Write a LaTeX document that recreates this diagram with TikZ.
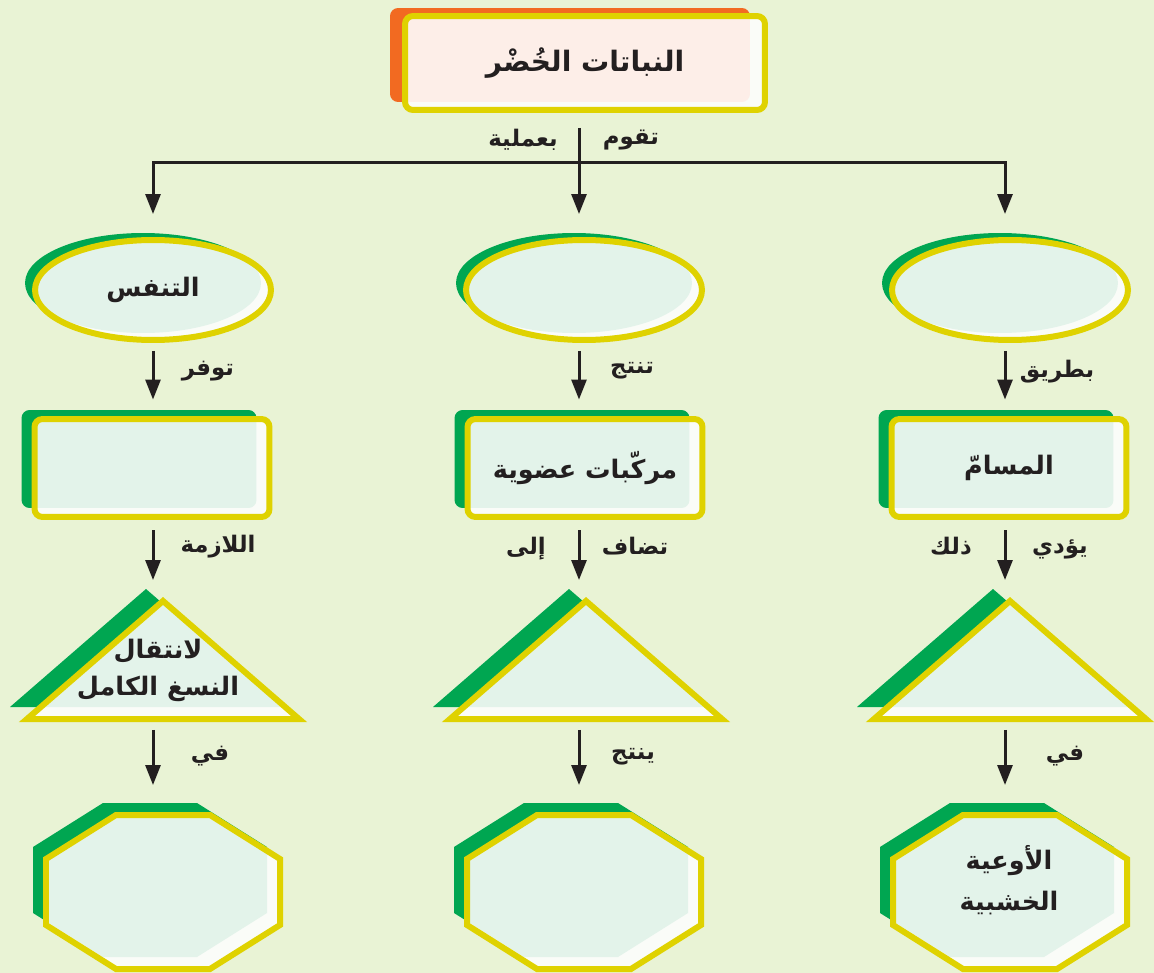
\documentclass[tikz,border=0pt]{standalone}
\usepackage{fontspec}
\usepackage{tikz}
\usetikzlibrary{arrows.meta,shapes.geometric,shadows,positioning}
\TeXXeTstate=1
\newfontfamily\arabicfont[Script=Arabic]{DejaVu Sans}
\newcommand{\artxt}[1]{{\arabicfont\bfseries\beginR #1\endR}}

\definecolor{bgcol}{HTML}{E9F3D5}
\definecolor{rimc}{HTML}{DFD200}
\definecolor{leaf}{HTML}{00A651}
\definecolor{rust}{HTML}{F26A21}
\definecolor{mint}{HTML}{E3F3EA}
\definecolor{blush}{HTML}{FDEEE8}
\definecolor{paper}{HTML}{FAFCF8}
\definecolor{ink}{HTML}{231F20}

% outlines of the flat shapes, one argument = centre x
\newcommand{\tripath}[1]{(#1,601) -- (#1-136,719) -- (#1+136,719) -- cycle}
\newcommand{\octpath}[1]{(#1-47,815) -- (#1+47,815) -- (#1+117,859) -- (#1+117,925)
  -- (#1+47,969) -- (#1-47,969) -- (#1-117,925) -- (#1-117,859) -- cycle}

\tikzset{
  rim/.style={draw=rimc, line width=0.12cm, fill=paper, line join=miter},
  wire/.style={draw=ink, line width=0.06cm},
  txt/.style={font=\fontsize{14.5}{18}\selectfont, text=ink, align=center},
  lbl/.style={font=\fontsize{13}{15}\selectfont, text=ink, inner sep=0pt},
  oval/.style={rim, ellipse, minimum width=4.72cm, minimum height=2cm, txt,
    copy shadow={shadow xshift=-0.2cm, shadow yshift=0.14cm, fill=leaf, draw=none},
    path picture={\fill[mint] ([xshift=-0.2cm,yshift=0.14cm]path picture bounding box.center)
      ellipse [x radius=2.36cm, y radius=1cm];}},
  card/.style={rim, rounded corners=0.16cm, minimum width=4.7cm, minimum height=1.96cm, txt,
    copy shadow={shadow xshift=-0.26cm, shadow yshift=0.18cm, fill=leaf, draw=none},
    path picture={\fill[mint, rounded corners=0.16cm]
      ([xshift=-0.26cm,yshift=0.18cm]path picture bounding box.south west) rectangle
      ([xshift=-0.26cm,yshift=0.18cm]path picture bounding box.north east);}},
  headcard/.style={rim, rounded corners=0.16cm, minimum width=7.2cm, minimum height=1.88cm,
    txt, font=\fontsize{16}{20}\selectfont,
    copy shadow={shadow xshift=-0.3cm, shadow yshift=0.16cm, fill=rust, draw=none},
    path picture={\fill[blush, rounded corners=0.16cm]
      ([xshift=-0.3cm,yshift=0.16cm]path picture bounding box.south west) rectangle
      ([xshift=-0.3cm,yshift=0.16cm]path picture bounding box.north east);}}
}

\begin{document}
\begin{tikzpicture}[x=0.02cm, y=-0.02cm, >={Triangle[length=0.4cm, width=0.3cm]}]
  \fill[bgcol] (0,0) rectangle (1154,973);
  \useasboundingbox (0,0) rectangle (1154,973);

  % top of the chart
  \node[headcard] (top) at (585,63) {\artxt{النباتات الخُضْر}};
  \coordinate (hub1) at (153,163);
  \coordinate (hub2) at (579,163);
  \coordinate (hub3) at (1005,163);

  % first row
  \node[oval] (e1) at (153,290) {\artxt{التنفس}};
  \node[oval] (e2) at (584,290) {};
  \node[oval] (e3) at (1010,290) {};

  % second row
  \node[card] (r1) at (152,468) {};
  \node[card] (r2) at (585,468) {\artxt{مركّبات عضوية}};
  \node[card] (r3) at (1009,468) {\artxt{المسامّ}};

  % third row
  \fill[leaf, shift={(-17,-12)}] \tripath{163};
  \path[rim, path picture={\fill[mint, shift={(-17,-12)}] \tripath{163};}] \tripath{163};
  \fill[leaf, shift={(-17,-12)}] \tripath{586};
  \path[rim, path picture={\fill[mint, shift={(-17,-12)}] \tripath{586};}] \tripath{586};
  \fill[leaf, shift={(-17,-12)}] \tripath{1010};
  \path[rim, path picture={\fill[mint, shift={(-17,-12)}] \tripath{1010};}] \tripath{1010};
  \coordinate (t1) at (163,601);
  \coordinate (t2) at (586,601);
  \coordinate (t3) at (1010,601);
  \coordinate (b1) at (163,719);
  \coordinate (b2) at (586,719);
  \coordinate (b3) at (1010,719);
  \node[txt, inner sep=0pt] (tx1) at (158,670) {\artxt{لانتقال}\\[3pt]\artxt{النسغ الكامل}};

  % last row
  \fill[leaf, shift={(-13,-12)}] \octpath{163};
  \path[rim, path picture={\fill[mint, shift={(-13,-12)}] \octpath{163};}] \octpath{163};
  \fill[leaf, shift={(-13,-12)}] \octpath{584};
  \path[rim, path picture={\fill[mint, shift={(-13,-12)}] \octpath{584};}] \octpath{584};
  \fill[leaf, shift={(-13,-12)}] \octpath{1010};
  \path[rim, path picture={\fill[mint, shift={(-13,-12)}] \octpath{1010};}] \octpath{1010};
  \coordinate (o1) at (163,815);
  \coordinate (o2) at (584,815);
  \coordinate (o3) at (1010,815);
  \node[txt, inner sep=0pt] (ox3) at (1009,880) {\artxt{الأوعية}\\[5pt]\artxt{الخشبية}};

  % connectors
  \draw[wire, shorten <=0.3cm] (top.south -| hub2) -- (hub2);
  \draw[wire, line cap=rect] (hub1) -- (hub3);
  \path[->, every edge/.append style={wire}]
    (hub1) edge[shorten >=0.46cm] (e1.north -| hub1)
    (hub2) edge[shorten >=0.46cm] (e2.north -| hub2)
    (hub3) edge[shorten >=0.46cm] (e3.north -| hub3)
    (e1.south -| hub1) edge[shorten <=0.16cm, shorten >=0.33cm] (r1.north -| hub1)
    (e2.south -| hub2) edge[shorten <=0.16cm, shorten >=0.33cm] (r2.north -| hub2)
    (e3.south -| hub3) edge[shorten <=0.16cm, shorten >=0.33cm] (r3.north -| hub3)
    (r1.south -| hub1) edge[shorten <=0.21cm, shorten >=0.42cm] (t1 -| hub1)
    (r2.south -| hub2) edge[shorten <=0.21cm, shorten >=0.42cm] (t2 -| hub2)
    (r3.south -| hub3) edge[shorten <=0.21cm, shorten >=0.42cm] (t3 -| hub3)
    (b1 -| hub1) edge[shorten <=0.22cm, shorten >=0.6cm] (o1 -| hub1)
    (b2 -| hub2) edge[shorten <=0.22cm, shorten >=0.6cm] (o2 -| hub2)
    (b3 -| hub3) edge[shorten <=0.22cm, shorten >=0.6cm] (o3 -| hub3);

  % words beside the arrows
  \node[lbl] (l1) at (523,140) {\artxt{بعملية}};
  \node[lbl] (l2) at (631,140) {\artxt{تقوم}};
  \node[lbl] (l3) at (208,371) {\artxt{توفر}};
  \node[lbl] (l4) at (632,371) {\artxt{تنتج}};
  \node[lbl] (l5) at (1057,372) {\artxt{بطريق}};
  \node[lbl] (l6) at (218,547) {\artxt{اللازمة}};
  \node[lbl] (l7) at (526,549) {\artxt{إلى}};
  \node[lbl] (l8) at (635,546) {\artxt{تضاف}};
  \node[lbl] (l9) at (951,546) {\artxt{ذلك}};
  \node[lbl] (l10) at (1060,549) {\artxt{يؤدي}};
  \node[lbl] (l11) at (210,756) {\artxt{في}};
  \node[lbl] (l12) at (633,757) {\artxt{ينتج}};
  \node[lbl] (l13) at (1065,756) {\artxt{في}};
\end{tikzpicture}
\end{document}
